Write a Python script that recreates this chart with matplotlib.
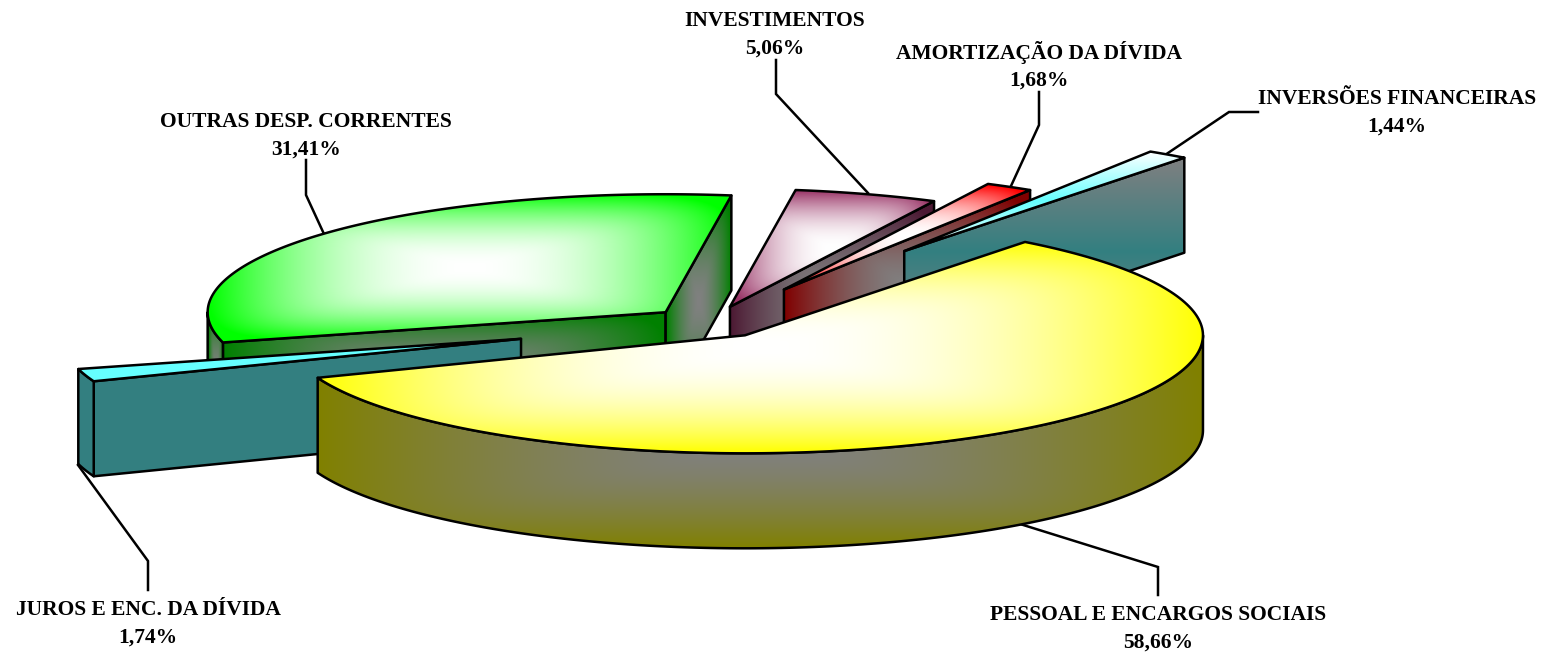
from __future__ import annotations

import matplotlib

matplotlib.use("Agg")

import numpy as np
from matplotlib import pyplot as plt
from matplotlib.patches import Polygon

CATEGORIES = [
    "PESSOAL E ENCARGOS SOCIAIS",
    "JUROS E ENC. DA DÍVIDA",
    "OUTRAS DESP. CORRENTES",
    "INVESTIMENTOS",
    "AMORTIZAÇÃO DA DÍVIDA",
    "INVERSÕES FINANCEIRAS",
]
PERCENTS = [58.66, 1.74, 31.41, 5.06, 1.68, 1.44]
PERCENT_LABELS = ["58,66%", "1,74%", "31,41%", "5,06%", "1,68%", "1,44%"]

# pie layout, in pixels of the 1544x655 picture
CENTER = (705.0, 321.5)
RX, RY, DEPTH = 458.0, 118.0, 95.0
START_ANGLE = 52.3
EXPLODE = [0.146, 0.42, 0.118, 0.175, 0.35, 0.745]
NUDGE = [(0, 0), (-1, 2), (1, 0), (1, 5), (0, 4), (3, 1.5)]
DRAW_ORDER = [3, 4, 5, 2, 1, 0]
LINE_WIDTH = 1.8

TOP_COLORS = [(255, 255, 0), (102, 255, 255), (0, 255, 0), (153, 51, 102), (255, 0, 0), (102, 255, 255)]
SIDE_COLORS = [(128, 128, 0), (51, 127, 128), (0, 128, 0), (76, 25, 51), (128, 0, 0), (51, 127, 128)]
GREY = (128, 128, 128)
WHITE = (255, 255, 255)

LABEL_POS = [(1158, 615), (148, 610), (306, 122), (775, 21), (1039, 53), (1397, 99)]
LEADERS = [
    [(1158, 595), (1158, 567), (1020, 524)],
    [(148, 590), (148, 561), (78, 465)],
    [(306, 160), (306, 195), (324, 234)],
    [(776, 60), (776, 94), (868, 193)],
    [(1039, 92), (1039, 125), (1011, 186)],
    [(1258, 112), (1229, 112), (1165, 155)],
]

plt.rcParams["font.family"] = ["Liberation Serif", "DejaVu Serif"]


def rim(center, angles):
    rad = np.radians(angles)
    return np.column_stack([center[0] + RX * np.cos(rad), center[1] - RY * np.sin(rad)])


def fill_gradient(ax, points, edge, middle, mode="rect", power=1.0):
    points = np.asarray(points)
    x0, y0 = points.min(axis=0)
    x1, y1 = points.max(axis=0)
    nx = max(int(x1 - x0) + 1, 2)
    ny = max(int(y1 - y0) + 1, 2)
    uu, vv = np.meshgrid(np.abs(np.linspace(-1, 1, nx)), np.abs(np.linspace(-1, 1, ny)))
    if mode == "rect":
        t = np.clip((uu**6 + vv**6) ** (1 / 6), 0, 1)
    elif mode == "vertical":
        t = vv
    else:
        t = np.zeros_like(uu)
    edge = np.array(edge) / 255
    middle = np.array(middle) / 255
    image = middle + (edge - middle) * (t**power)[..., None]
    clip = Polygon(points, closed=True, facecolor="none", edgecolor="none")
    ax.add_patch(clip)
    artist = ax.imshow(image, extent=(x0, x1, y1, y0), aspect="auto", interpolation="bilinear", zorder=1)
    artist.set_clip_path(clip)
    ax.add_patch(Polygon(points, closed=True, facecolor="none", edgecolor="black", linewidth=LINE_WIDTH, joinstyle="round", zorder=1))


def draw_slice(ax, index, a1, a2):
    mid = np.radians((a1 + a2) / 2)
    e = EXPLODE[index]
    center = (
        CENTER[0] + e * RX * np.cos(mid) + NUDGE[index][0],
        CENTER[1] - e * RY * np.sin(mid) + NUDGE[index][1],
    )
    drop = np.array([0, DEPTH])
    tip = np.array(center)
    top_arc = rim(center, np.linspace(a1, a2, 200))

    if index == 1:
        side_args = {"edge": SIDE_COLORS[index], "middle": SIDE_COLORS[index], "mode": "flat"}
        top_args = {"edge": TOP_COLORS[index], "middle": TOP_COLORS[index], "mode": "flat"}
    elif index == 5:
        side_args = {"edge": GREY, "middle": SIDE_COLORS[index], "mode": "vertical"}
        top_args = {"edge": WHITE, "middle": TOP_COLORS[index], "mode": "vertical"}
    else:
        side_args = {"edge": SIDE_COLORS[index], "middle": GREY, "power": 1.6}
        top_args = {"edge": TOP_COLORS[index], "middle": WHITE, "power": 2.0}

    # cut faces, only the ones turned towards the viewer
    if np.cos(np.radians(a1)) < 0:
        edge_pt = top_arc[0]
        fill_gradient(ax, [tip, edge_pt, edge_pt + drop, tip + drop], **side_args)
    if np.cos(np.radians(a2)) > 0:
        edge_pt = top_arc[-1]
        fill_gradient(ax, [tip, edge_pt, edge_pt + drop, tip + drop], **side_args)

    # outer wall on the front half of the ellipse
    hi, lo = min(a1, 0.0), max(a2, -180.0)
    if hi > lo:
        arc = rim(center, np.linspace(hi, lo, 200))
        fill_gradient(ax, np.vstack([arc, arc[::-1] + drop]), **side_args)

    fill_gradient(ax, np.vstack([tip, top_arc]), **top_args)


fig = plt.figure(figsize=(15.44, 6.55), dpi=100)
ax = fig.add_axes([0, 0, 1, 1])

for leader in LEADERS:
    xs, ys = zip(*leader)
    ax.plot(xs, ys, color="black", linewidth=LINE_WIDTH, solid_joinstyle="miter", zorder=0.5)

sweeps = np.array(PERCENTS) / sum(PERCENTS) * 360
ends = START_ANGLE - np.cumsum(sweeps)
starts = np.concatenate([[START_ANGLE], ends[:-1]])
for i in DRAW_ORDER:
    draw_slice(ax, i, starts[i], ends[i])

for name, pct, (x, y) in zip(CATEGORIES, PERCENT_LABELS, LABEL_POS):
    ax.text(x, y, name, ha="center", va="center", fontsize=15.45, fontweight="bold", zorder=10)
    ax.text(x, y + 28, pct, ha="center", va="center", fontsize=15.45, fontweight="bold", zorder=10)

ax.set_xlim(0, 1544)
ax.set_ylim(655, 0)
ax.axis("off")
fig.savefig("out.png", dpi=100)
plt.close(fig)
